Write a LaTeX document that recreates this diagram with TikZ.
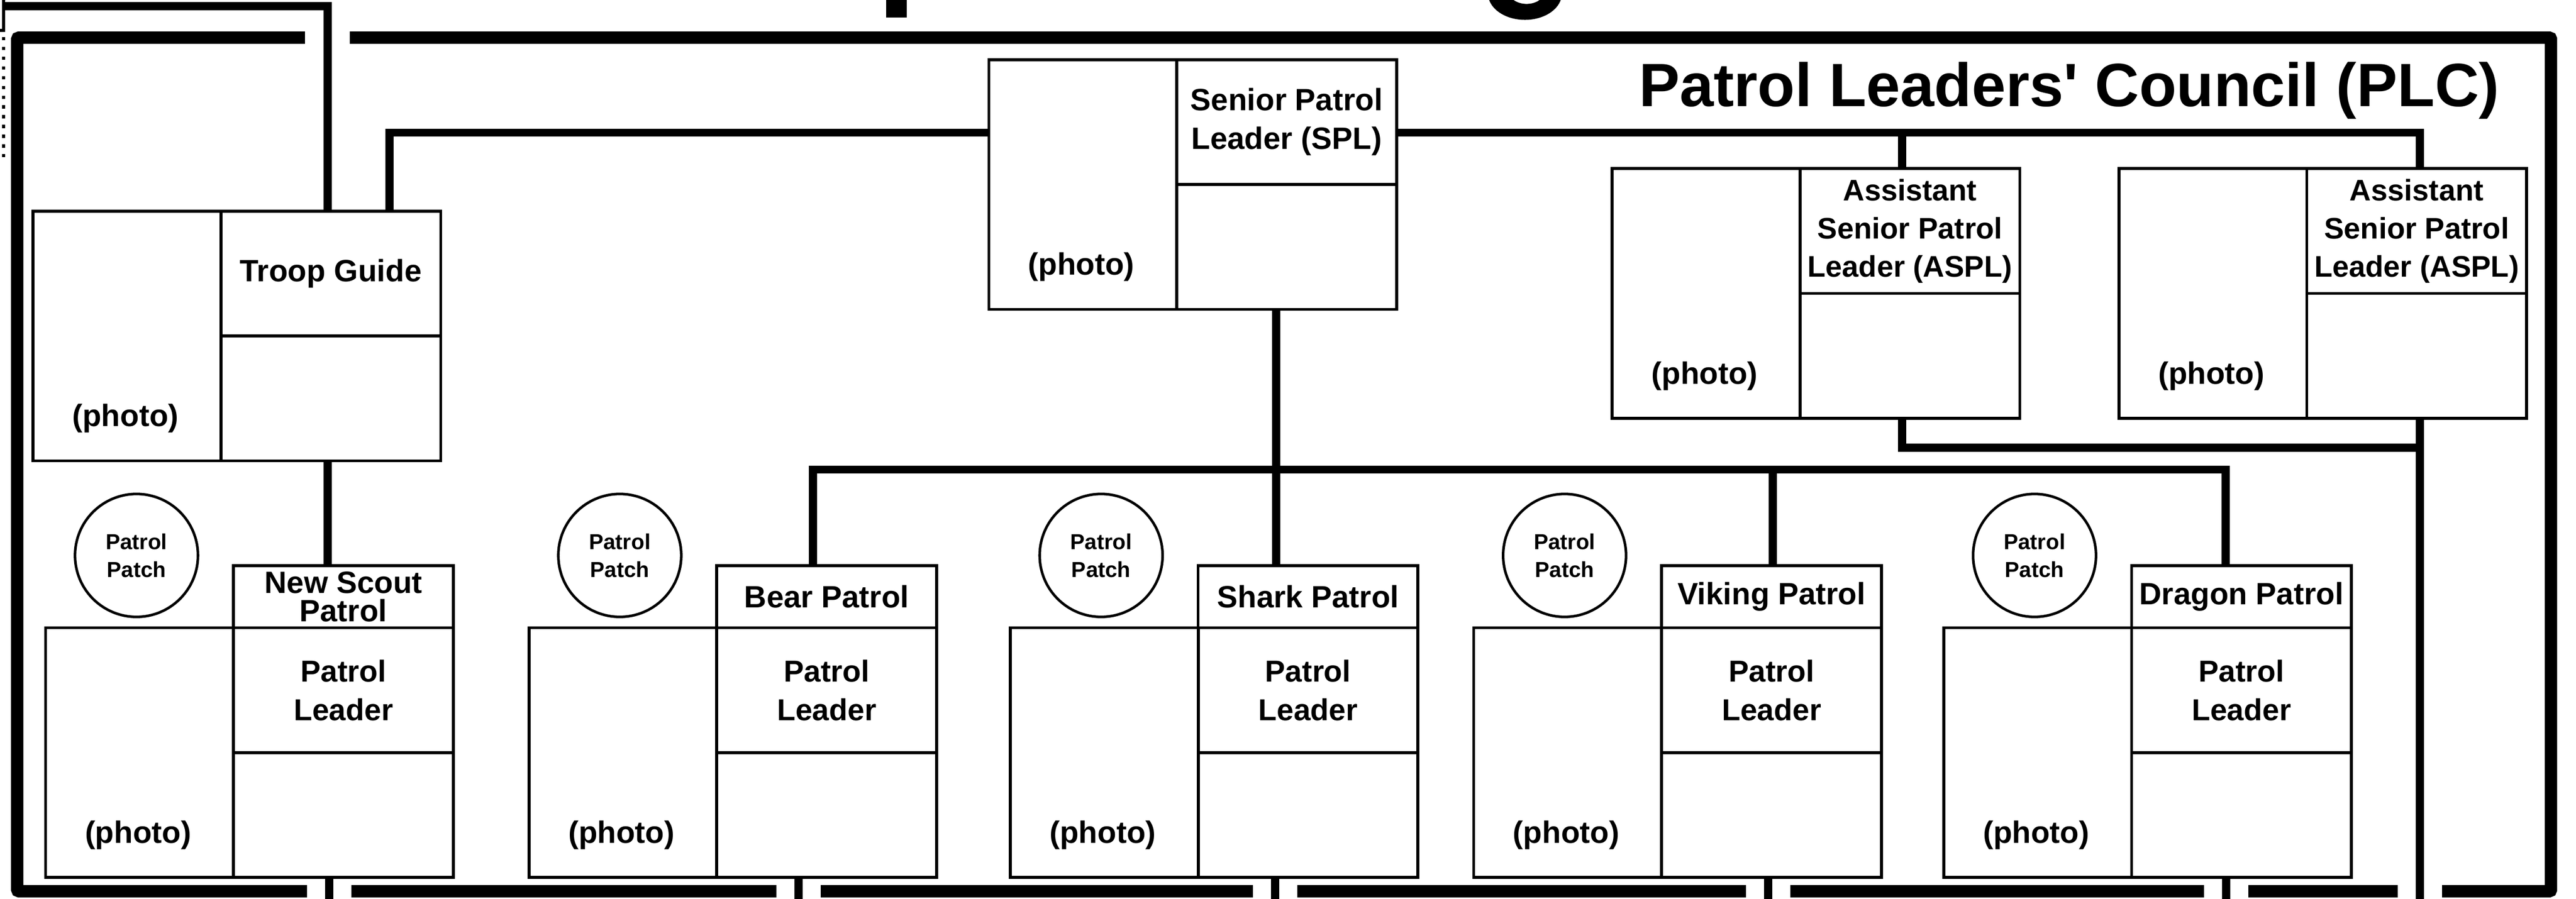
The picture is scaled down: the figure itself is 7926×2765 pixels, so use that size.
\documentclass[tikz,border=0pt]{standalone}
\usepackage{fontspec}
\setmainfont{Liberation Sans}
\usetikzlibrary{calc}
\tikzset{
  conn/.style={line width=0.25cm},
  cell/.style={draw, line width=0.09cm, inner sep=0pt, anchor=north west, align=center,
    font=\bfseries\fontsize{27}{33.8}\selectfont},
  photocell/.style={cell, minimum width=5.78cm, minimum height=7.68cm},
  halfcell/.style={cell, minimum width=6.76cm, minimum height=3.84cm},
  headcell/.style={cell, minimum width=6.76cm, minimum height=1.91cm},
  photolbl/.style={anchor=base, inner sep=0pt, font=\bfseries\fontsize{27}{33.8}\selectfont},
  patchcirc/.style={draw, circle, line width=0.08cm, minimum size=3.78cm, inner sep=0pt,
    align=center, font=\bfseries\fontsize{19}{24.2}\selectfont},
  plcframe/.style={line width=0.38cm, rounded corners=0.05cm},
  gapfill/.style={fill=white, draw=none},
}
% name, x, y, top text, extra style for top cell
\newcommand\mycard[5]{%
  \node[photocell] (#1-p) at (#2,#3) {};
  \node[halfcell,#5] (#1-t) at (#2+578,#3) {#4};
  \node[halfcell] (#1-b) at (#2+578,#3+384) {};
  \node[photolbl] (#1-l) at (#2+289,#3+667) {(photo)};
}
% name, x, header text, header style
\newcommand\mypatrol[4]{%
  \mycard{#1}{#2}{1927}{Patrol\\Leader}{font=\bfseries\fontsize{26.5}{33.7}\selectfont}
  \node[headcell,#4] (#1-h) at (#2+578,1736) {#3};
  \node[patchcirc] (#1-c) at (#2+284,1709) {Patrol\\Patch};
}
\begin{document}
\begin{tikzpicture}[x=0.01cm, y=-0.01cm]
\path[use as bounding box] (0,0) rectangle (7926,2765);
\clip (0,0) rectangle (7926,2765);
\fill[white] (0,0) rectangle (7926,2765);

% fragments of the cut-off title
\fill (2726,0) rectangle (2790,54);
\fill[even odd rule] (4692,-20) ellipse [x radius=1.135cm, y radius=0.81cm]
                     (4697,-25) ellipse [x radius=0.54cm, y radius=0.37cm];

% PLC frame
\draw[plcframe] (53,116) -- (7849,116) -- (7849,2742) -- (53,2742) -- cycle;
\fill[gapfill] (938,90) rectangle (1076,142);
\foreach \gx in {1013,2457,3923,5440,6850,7445}
  \fill[gapfill] (\gx-68,2716) rectangle (\gx+68,2770);

\node[anchor=base east, inner sep=0pt, font=\bfseries\fontsize{53.5}{60}\selectfont]
  (plc) at (7691,327) {Patrol Leaders\textquotesingle{} Council (PLC)};

% thin line and dotted line at the far left
\draw[line width=0.09cm] (11.5,0) -- (11.5,93) -- (0,93);
\draw[line width=0.09cm, dash pattern=on 0.1cm off 0.2cm] (11.5,114) -- (11.5,495);

% cards
\mycard{tg}{97}{645}{Troop Guide}{}
\mycard{spl}{3038}{179}{Senior Patrol\\Leader (SPL)}{}
\mycard{aa}{4956}{514}{Assistant\\Senior Patrol\\Leader (ASPL)}{font=\bfseries\fontsize{26}{33.3}\selectfont}
\mycard{ab}{6515}{514}{Assistant\\Senior Patrol\\Leader (ASPL)}{font=\bfseries\fontsize{26}{33.3}\selectfont}

\mypatrol{ns}{136}{New Scout\\Patrol}{font=\bfseries\fontsize{27}{24.5}\selectfont}
\mypatrol{be}{1623}{Bear Patrol}{}
\mypatrol{sh}{3104}{Shark Patrol}{}
\mypatrol{vi}{4530}{Viking Patrol}{}
\mypatrol{dr}{5976}{Dragon Patrol}{}

% junction coordinates
\coordinate (tl) at (7,19.5);
\coordinate (tlx) at (1008,19.5);
\coordinate (jtg) at (1199,408);
\coordinate (ja) at (7445,408);
\coordinate (ja1) at (5852,408);
\coordinate (jb) at (7445,1378);
\coordinate (jp) at (3926,1445);
\coordinate (pb) at (2501,1445);
\coordinate (pv) at (5455,1445);
\coordinate (pd) at (6848,1445);
\coordinate (aend) at (7445,2800);
\coordinate (nsend) at (1013,2800);
\coordinate (beend) at (2457,2800);
\coordinate (shend) at (3923,2800);
\coordinate (viend) at (5440,2800);
\coordinate (drend) at (6850,2800);

% connectors
\draw[conn] (tl) -- (tlx) -- (tlx |- tg-t.north);
\draw[conn] (tlx |- tg-b.south) -- (tlx |- ns-h.north);
\draw[conn] (spl-p.west |- jtg) -| (jtg |- tg-t.north);
\draw[conn] (spl-t.east |- ja) -- (ja) -- (ja |- ab-t.north);
\draw[conn] (ja1) -- (ja1 |- aa-t.north);
\draw[conn] (ja1 |- aa-b.south) |- (jb);
\draw[conn] (ja |- ab-b.south) -- (aend);
\draw[conn] (jp |- spl-b.south) -- (jp |- sh-h.north);
\draw[conn] (pb |- be-h.north) -- (pb) -- (pd) -- (pd |- dr-h.north);
\draw[conn] (pv) -- (pv |- vi-h.north);
\draw[conn] (nsend |- ns-b.south) -- (nsend);
\draw[conn] (beend |- be-b.south) -- (beend);
\draw[conn] (shend |- sh-b.south) -- (shend);
\draw[conn] (viend |- vi-b.south) -- (viend);
\draw[conn] (drend |- dr-b.south) -- (drend);
\end{tikzpicture}
\end{document}
